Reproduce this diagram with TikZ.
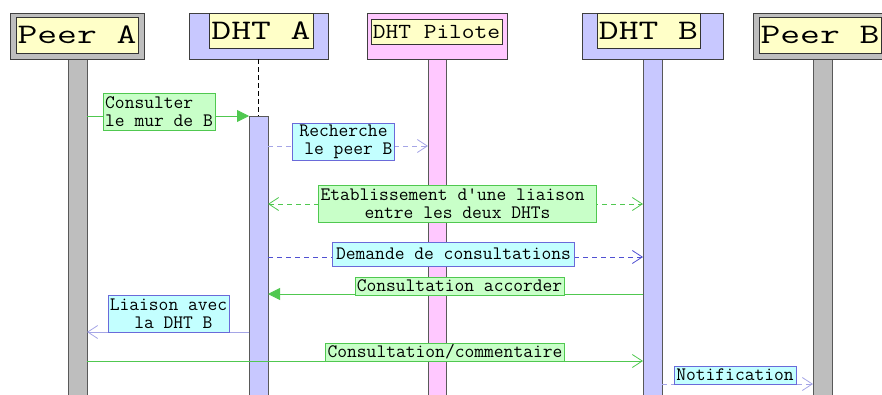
\documentclass[tikz,border=0pt]{standalone}
\usepackage{fontspec}
\newfontfamily\notefont{Latin Modern Mono}
\newfontfamily\headfont[FakeStretch=1.36]{Latin Modern Mono}
\newfontfamily\pilotfont[FakeStretch=1.15]{Latin Modern Mono}
\usetikzlibrary{arrows.meta,shadows}
\definecolor{headgray}{RGB}{190,190,190}
\definecolor{dhtblue}{RGB}{200,200,255}
\definecolor{pilotpink}{RGB}{255,200,255}
\definecolor{nameyellow}{RGB}{255,255,200}
\definecolor{notegreen}{RGB}{200,255,200}
\definecolor{notecyan}{RGB}{195,255,255}
\definecolor{linegreen}{RGB}{80,200,80}
\definecolor{lineblue}{RGB}{80,80,210}
\definecolor{lightblue}{RGB}{165,165,230}
\tikzset{
  head/.style={draw=black!75, minimum height=46pt, inner sep=0pt,
    drop shadow={shadow xshift=1.2pt,shadow yshift=-1.2pt,fill=black!40}},
  namebox/.style={draw=black!80, fill=nameyellow, inner sep=0pt,
    font=\headfont\fontsize{28.3}{28.3}\selectfont},
  lifebar/.style={draw=black!65,
    drop shadow={shadow xshift=1.2pt,shadow yshift=0pt,fill=black!45}},
  gnote/.style={draw=linegreen, fill=notegreen, inner xsep=2pt, inner ysep=0pt,
    align=center, minimum height=18pt, font=\notefont\fontsize{19}{18}\selectfont},
  bnote/.style={gnote, draw=lineblue!85, fill=notecyan},
  twoline/.style={minimum height=37pt},
  msg/.style={line width=0.8pt},
  dashes/.style={dash pattern=on 5pt off 4pt},
  sync/.style={-{Triangle[length=12pt,width=12pt]}},
  reply/.style={-{Straight Barb[length=10pt,width=13pt]}}
}
\begin{document}
\begin{tikzpicture}[x=1pt,y=-1pt]
\useasboundingbox (0,0) rectangle (882,394);
\clip (0,0) rectangle (882,394);
\draw[lifebar, fill=headgray] (68,59) rectangle (87,400);
\draw[lifebar, fill=pilotpink] (428,59) rectangle (446,400);
\draw[lifebar, fill=dhtblue] (643,59) rectangle (662,400);
\draw[lifebar, fill=headgray] (813,59) rectangle (832,400);
\node[head, fill=headgray, minimum width=134pt] (peerA) at (77,36) {};
\node[head, fill=dhtblue, minimum width=139pt] (dhtA) at (258.5,36) {};
\node[head, fill=pilotpink, minimum width=140pt] (pilote) at (437,36) {};
\node[head, fill=dhtblue, minimum width=141pt] (dhtB) at (652.5,36) {};
\node[head, fill=headgray, minimum width=134pt] (peerB) at (820,36) {};
\node[namebox, minimum width=122pt, minimum height=36pt] (nPeerA) at (77,35) {Peer A};
\node[namebox, minimum width=104pt, minimum height=35pt] (nDhtA) at (261,30.5) {DHT A};
\node[namebox, font=\pilotfont\fontsize{21.5}{21.5}\selectfont, minimum width=131pt, minimum height=25pt] (nPilote) at (436.5,31.5) {DHT Pilote};
\node[namebox, minimum width=103pt, minimum height=35pt] (nDhtB) at (648.5,30.5) {DHT B};
\node[namebox, minimum width=122pt, minimum height=36pt] (nPeerB) at (820,35) {Peer B};
\coordinate (act) at (258,116);
\draw[black, dash pattern=on 5pt off 3pt] (dhtA.south -| act) -- (act);
\draw[lifebar, fill=dhtblue] (249,116) rectangle (268,400);
\coordinate (v1) at (87,116);
\coordinate (v2) at (249,116);
\coordinate (v3) at (268,146);
\coordinate (v4) at (428,146);
\coordinate (v5) at (268,204);
\coordinate (v6) at (643,204);
\coordinate (v7) at (268,257);
\coordinate (v8) at (643,257);
\coordinate (v9) at (643,294);
\coordinate (v10) at (268,294);
\coordinate (v11) at (249,332);
\coordinate (v12) at (87,332);
\coordinate (v13) at (87,361);
\coordinate (v14) at (643,361);
\coordinate (v15) at (662,384);
\coordinate (v16) at (813,384);
\draw[msg, linegreen, sync] (v1) -- (v2);
\draw[msg, lightblue, dashes, reply] (v3) -- (v4);
\draw[msg, linegreen, dashes, {Straight Barb[length=10pt,width=13pt]}-{Straight Barb[length=10pt,width=13pt]}] (v5) -- (v6);
\draw[msg, lineblue, dashes, reply] (v7) -- (v8);
\draw[msg, linegreen, sync] (v9) -- (v10);
\draw[msg, lightblue, reply] (v11) -- (v12);
\draw[msg, linegreen, reply] (v13) -- (v14);
\draw[msg, lightblue, dashes, reply] (v15) -- (v16);
\node[gnote, twoline, align=left] (m1) at (159,112) {Consulter\\le mur de B};
\node[bnote, twoline] (m2) at (343.5,141.5) {Recherche\\\ le peer B};
\node[gnote, twoline] (m3) at (457.5,203.5) {Etablissement d\textquotesingle une liaison\hphantom{x}\\entre les deux DHTs};
\node[bnote, minimum height=24pt, inner xsep=3.5pt] (m4) at (453.5,254) {Demande de consultations};
\node[gnote] (m5) at (459.5,286) {Consultation accorder};
\node[bnote, twoline] (m6) at (168.5,313.5) {Liaison avec\\\ la DHT B};
\node[gnote] (m7) at (445,352) {Consultation/commentaire};
\node[bnote] (m8) at (735,375) {Notification};
\end{tikzpicture}
\end{document}
